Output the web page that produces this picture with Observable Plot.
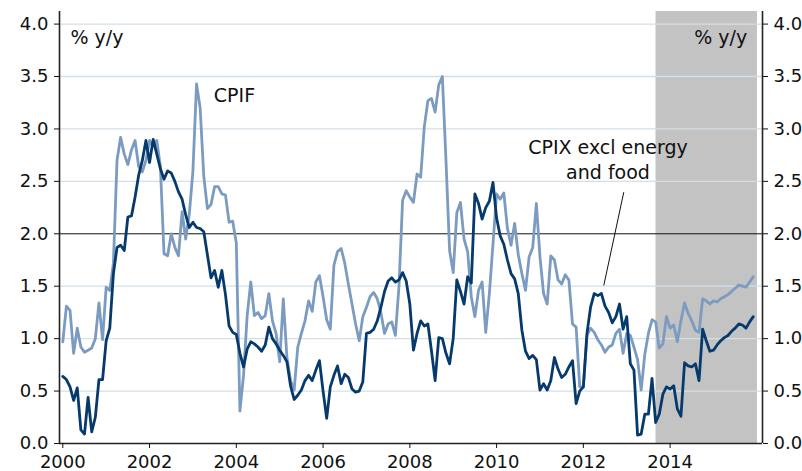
<!DOCTYPE html>
<html>
<head>
<meta charset="utf-8">
<script src="https://cdn.jsdelivr.net/npm/d3@7"></script>
<script src="https://cdn.jsdelivr.net/npm/@observablehq/plot@0.6"></script>
<style>
  html, body { margin: 0; padding: 0; background: #fff; }
  #chart svg { display: block; }
</style>
</head>
<body>
<div id="chart"></div>
<script>
// Monthly data, Jan 2000 - Dec 2015 (% y/y)
const startYear = 2000;
const cpif = [
  0.97,1.31,1.27,0.86,1.10,0.92,0.87,0.89,0.91,1.00,1.34,0.99,
  1.49,1.46,1.72,2.70,2.92,2.76,2.66,2.80,2.89,2.64,2.59,2.70,
  2.89,2.84,2.89,2.64,1.81,1.79,2.00,1.87,1.79,2.21,1.95,2.19,
  2.60,3.43,3.20,2.55,2.24,2.28,2.45,2.45,2.38,2.37,2.11,2.12,
  1.91,0.31,0.65,1.22,1.54,1.22,1.25,1.19,1.22,1.43,1.17,1.05,
  0.78,1.38,0.82,0.60,0.51,0.92,1.05,1.17,1.36,1.26,1.54,1.60,
  1.40,1.18,1.09,1.70,1.83,1.86,1.72,1.52,1.33,1.14,0.98,1.21,
  1.30,1.40,1.44,1.38,1.25,1.05,1.14,1.16,1.03,1.50,2.32,2.41,
  2.35,2.30,2.57,2.54,3.02,3.27,3.29,3.16,3.42,3.50,2.70,1.84,
  1.63,2.20,2.30,1.95,1.83,1.40,1.21,1.46,1.54,1.06,1.43,1.90,
  2.38,2.33,2.39,2.05,1.89,2.10,1.80,1.62,1.46,1.78,1.87,2.29,
  1.78,1.43,1.33,1.79,1.75,1.56,1.52,1.61,1.56,1.14,1.11,0.54,
  0.54,1.03,1.10,1.06,0.99,0.94,0.87,0.92,0.94,1.05,1.09,0.86,
  1.05,1.03,0.92,0.80,0.51,0.85,1.05,1.18,1.16,0.91,0.95,1.21,
  1.10,1.13,0.97,1.17,1.34,1.24,1.17,1.08,1.06,1.38,1.36,1.33,
  1.36,1.35,1.38,1.40,1.42,1.45,1.48,1.51,1.50,1.49,1.54,1.59
];
const cpixExcl = [
  0.64,0.61,0.54,0.41,0.53,0.13,0.09,0.44,0.11,0.25,0.61,0.61,
  0.98,1.10,1.62,1.87,1.89,1.84,2.16,2.17,2.35,2.56,2.70,2.89,
  2.68,2.90,2.76,2.62,2.52,2.60,2.58,2.50,2.40,2.33,2.18,2.06,
  2.11,2.06,2.05,2.02,1.80,1.58,1.65,1.49,1.65,1.42,1.12,1.06,
  1.04,0.86,0.73,0.90,0.97,0.95,0.92,0.88,0.94,1.11,1.00,0.95,
  0.89,0.84,0.78,0.55,0.42,0.46,0.51,0.60,0.65,0.60,0.70,0.79,
  0.50,0.24,0.54,0.65,0.74,0.57,0.66,0.63,0.52,0.49,0.50,0.59,
  1.05,1.06,1.09,1.17,1.30,1.45,1.55,1.58,1.54,1.56,1.63,1.55,
  1.33,0.89,1.05,1.17,1.12,1.14,0.88,0.60,1.01,1.00,0.86,0.76,
  1.00,1.56,1.45,1.33,1.59,1.53,2.38,2.29,2.14,2.25,2.31,2.49,
  2.15,1.98,1.90,1.75,1.62,1.57,1.43,1.08,0.88,0.81,0.84,0.80,
  0.51,0.57,0.51,0.60,0.82,0.71,0.63,0.66,0.73,0.79,0.38,0.50,
  0.54,1.05,1.30,1.43,1.41,1.43,1.31,1.25,1.15,1.21,1.33,1.09,
  1.21,0.76,0.70,0.08,0.09,0.28,0.28,0.62,0.20,0.28,0.47,0.54,
  0.52,0.55,0.33,0.26,0.77,0.74,0.73,0.76,0.60,1.09,0.98,0.88,
  0.89,0.94,0.98,1.01,1.03,1.07,1.10,1.14,1.13,1.10,1.16,1.21
];
const xTicks = [2000, 2002, 2004, 2006, 2008, 2010, 2012, 2014];
const yTicks = [0, 0.5, 1, 1.5, 2, 2.5, 3, 3.5, 4];
const forecastPeriod = [{start: 2013.675, end: 2016.014}];
const unitLabel = "% y/y";
const seriesLabels = ["CPIF", "CPIX excl energy", "and food"];

const rows = (vals, name) => vals.map((v, i) => ({date: startYear + i / 12, value: v, series: name}));
const cpifRows = rows(cpif, "CPIF");
const cpixRows = rows(cpixExcl, "CPIX excl energy and food");

const xDomain = [1999.924, 2016.13];
const yDomain = [0, 4.12];

const chart = Plot.plot({
  width: 802,
  height: 471,
  marginLeft: 59,
  marginRight: 40,
  marginTop: 11,
  marginBottom: 28,
  x: {domain: xDomain},
  y: {domain: yDomain},
  style: {fontFamily: "'DejaVu Sans', Verdana, sans-serif", fontSize: "18px", color: "#111", background: "#fff"},
  marks: [
    Plot.rect(forecastPeriod, {x1: "start", x2: "end", y1: 0, y2: yDomain[1], fill: "#c3c3c3"}),
    Plot.ruleY(yTicks.filter(d => d > 0 && d !== 2), {stroke: "#d4dfe8", strokeWidth: 1.3}),
    Plot.ruleY([2], {stroke: "#111", strokeWidth: 1}),
    Plot.lineY(cpifRows, {x: "date", y: "value", stroke: "#7b9bc1", strokeWidth: 2.8, strokeLinejoin: "round"}),
    Plot.lineY(cpixRows, {x: "date", y: "value", stroke: "#073a6c", strokeWidth: 2.8, strokeLinejoin: "round"}),
    Plot.link([{x1: 2012.932, y1: 2.397, x2: 2012.471, y2: 1.507}], {x1: "x1", y1: "y1", x2: "x2", y2: "y2", stroke: "#111", strokeWidth: 1}),
    Plot.ruleX([xDomain[0]], {stroke: "#222", strokeWidth: 1.6}),
    Plot.ruleX([xDomain[1]], {stroke: "#222", strokeWidth: 1.6}),
    Plot.ruleY([0], {stroke: "#222", strokeWidth: 1.6}),
    Plot.axisY({anchor: "left", ticks: yTicks, tickFormat: d3.format(".1f"), tickSize: 5, tickPadding: 6, label: null}),
    Plot.axisY({anchor: "right", ticks: yTicks, tickFormat: d3.format(".1f"), tickSize: 5, tickPadding: 6, label: null}),
    Plot.axisX({ticks: xTicks, tickFormat: d => String(d), tickSize: 5, tickPadding: 7, label: null}),
    Plot.text([unitLabel], {x: 2000.178, y: 3.868, text: d => d, textAnchor: "start", lineAnchor: "middle", fontSize: 19, fill: "#111"}),
    Plot.text([unitLabel], {x: 2015.777, y: 3.868, text: d => d, textAnchor: "end", lineAnchor: "middle", fontSize: 19, fill: "#111"}),
    Plot.text([seriesLabels[0]], {x: 2003.481, y: 3.319, text: d => d, textAnchor: "start", lineAnchor: "middle", fontSize: 19, fill: "#111"}),
    Plot.text([seriesLabels[1]], {x: 2012.568, y: 2.823, text: d => d, textAnchor: "middle", lineAnchor: "middle", fontSize: 19, fill: "#111"}),
    Plot.text([seriesLabels[2]], {x: 2012.568, y: 2.577, text: d => d, textAnchor: "middle", lineAnchor: "middle", fontSize: 19, fill: "#111"})
  ]
});
document.getElementById("chart").appendChild(chart);
</script>
</body>
</html>
